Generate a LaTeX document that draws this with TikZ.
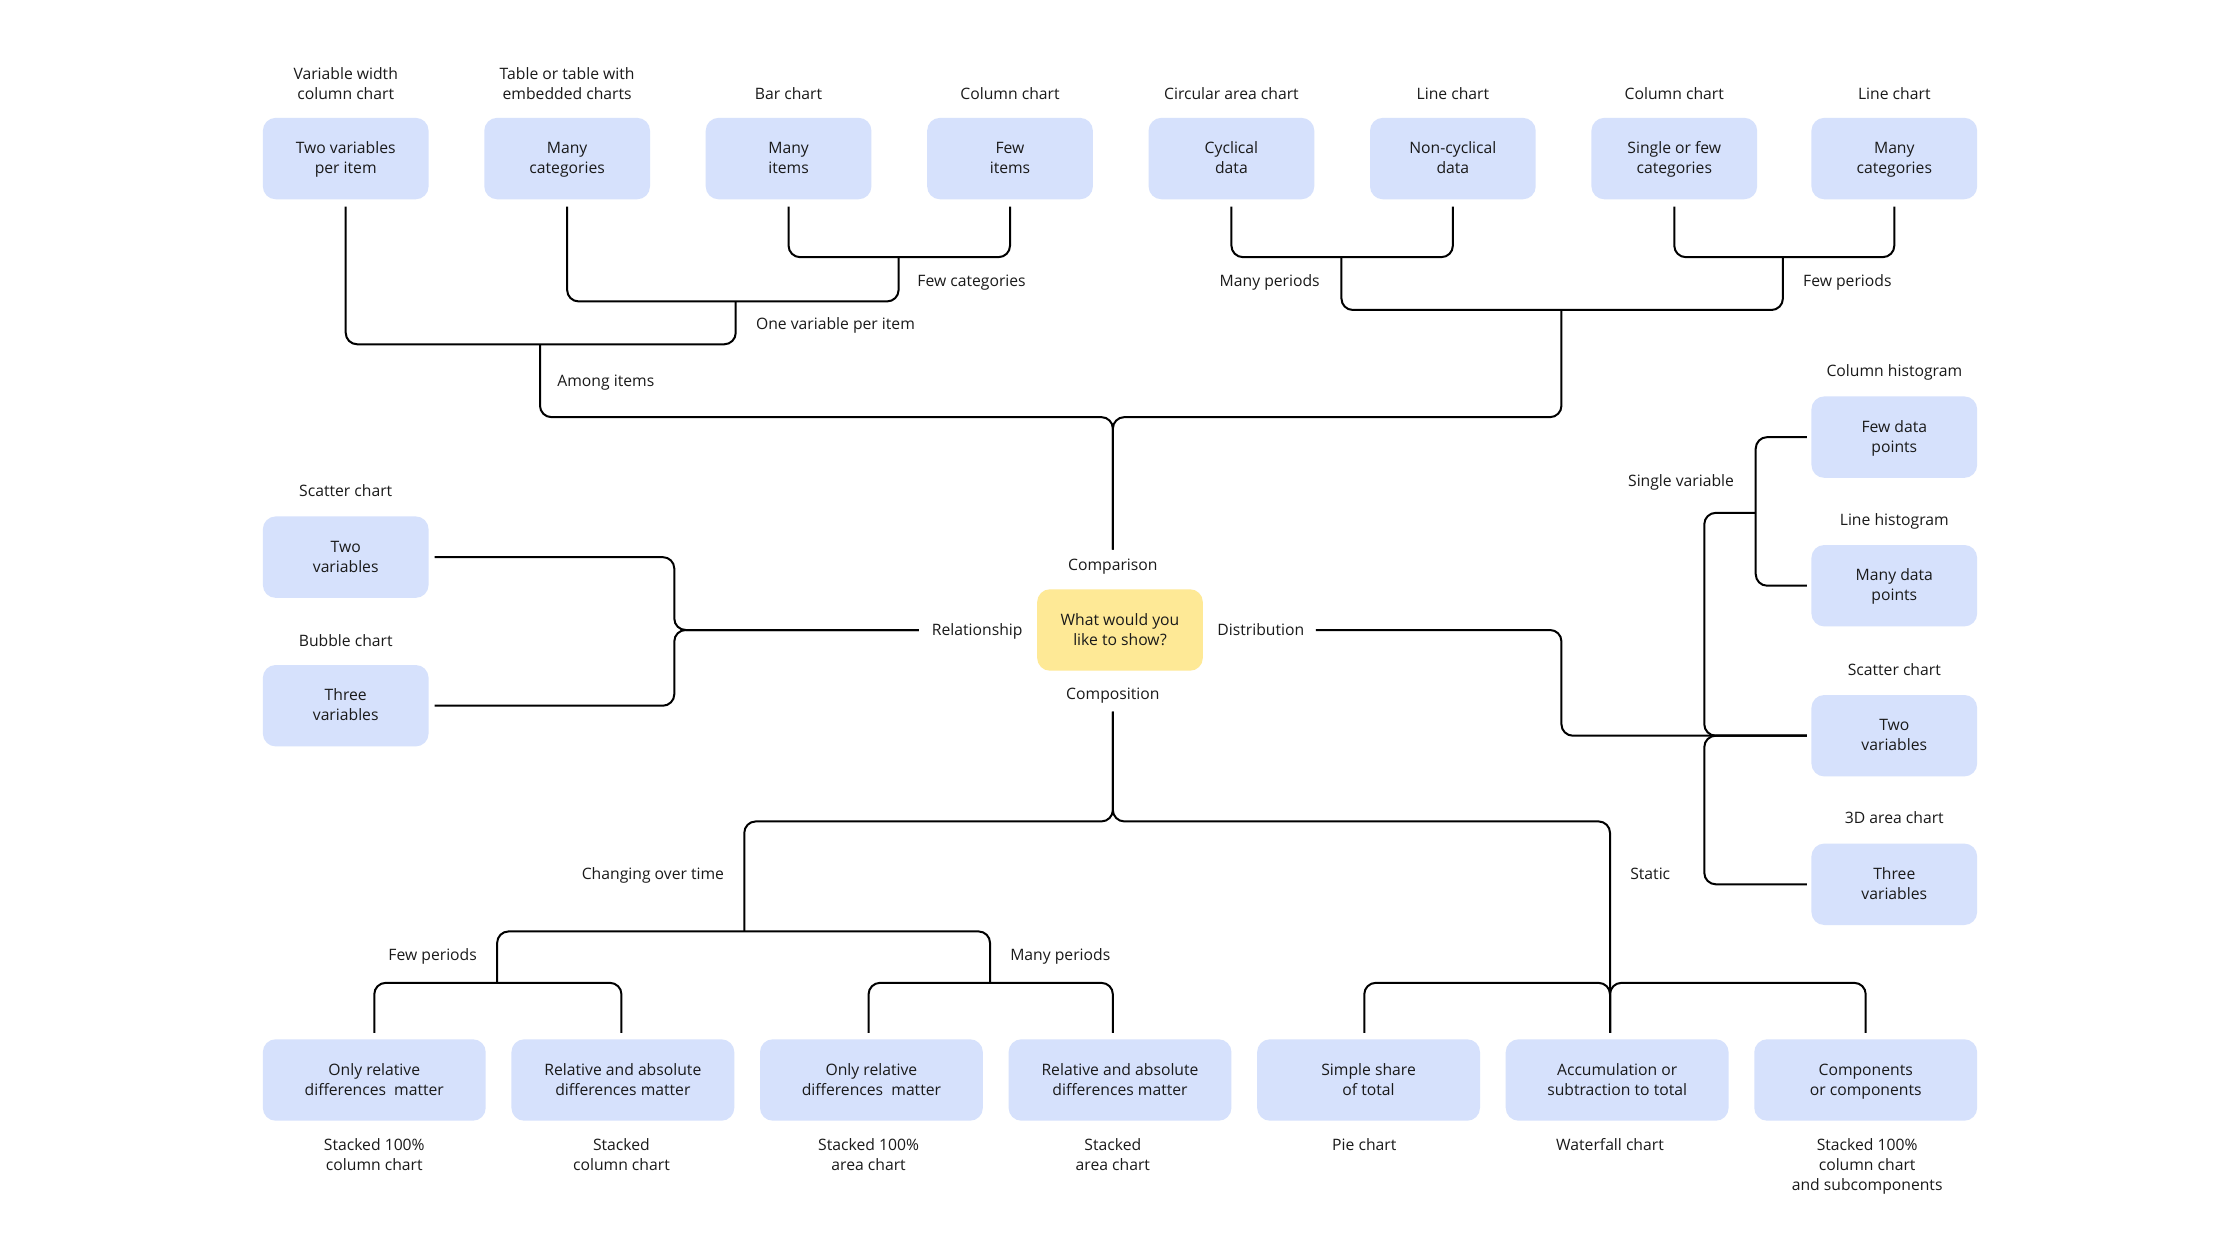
\documentclass[tikz,border=0pt]{standalone}
\usepackage{fontspec}
\setmainfont{Open Sans}
\definecolor{boxblue}{RGB}{214,225,252}
\definecolor{qyellow}{RGB}{254,233,150}
\definecolor{ink}{RGB}{26,26,26}
\newcommand{\ml}[1]{\begin{tabular}[t]{@{}c@{}}#1\end{tabular}}
\begin{document}
\begin{tikzpicture}[x=1pt,y=-1pt,
  every node/.style={font=\fontsize{11}{14}\selectfont, text=ink, inner sep=0pt},
  one/.style={text height=7pt, text depth=0pt},
  two/.style={text height=7pt, text depth=14pt},
  three/.style={text height=7pt, text depth=28pt},
  box/.style={rectangle, rounded corners=9pt, fill=boxblue, minimum width=116pt, minimum height=57pt, two},
  wbox/.style={box, minimum width=156pt},
  qbox/.style={box, fill=qyellow},
  conn/.style={draw=black, line width=1.4pt, rounded corners=8pt}]
\fill[white] (0,0) rectangle (1568,882);
\useasboundingbox (0,0) rectangle (1568,882);

% ---------- top row boxes ----------
\node[box] (t1) at (242,111) {\ml{Two variables\\per item}};
\node[box] (t2) at (397,111) {\ml{Many\\categories}};
\node[box] (t3) at (552,111) {\ml{Many\\items}};
\node[box] (t4) at (707,111) {\ml{Few\\items}};
\node[box] (t5) at (862,111) {\ml{Cyclical\\data}};
\node[box] (t6) at (1017,111) {\ml{Non-cyclical\\data}};
\node[box] (t7) at (1172,111) {\ml{Single or few\\categories}};
\node[box] (t8) at (1326,111) {\ml{Many\\categories}};

\node[two] (lt1) at (242,59) {\ml{Variable width\\column chart}};
\node[two] (lt2) at (397,59) {\ml{Table or table with\\embedded charts}};
\node[one] (lt3) at (552,66) {Bar chart};
\node[one] (lt4) at (707,66) {Column chart};
\node[one] (lt5) at (862,66) {Circular area chart};
\node[one] (lt6) at (1017,66) {Line chart};
\node[one] (lt7) at (1172,66) {Column chart};
\node[one] (lt8) at (1326,66) {Line chart};

% ---------- centre ----------
\node[qbox] (q) at (784,441) {\ml{What would you\\like to show?}};
\node[one] (cmp) at (779,396) {Comparison};
\node[one] (cps) at (779,486) {Composition};
\node[one, anchor=east] (rel) at (716,441) {Relationship};
\node[one, anchor=west] (dis) at (852,441) {Distribution};

% ---------- left boxes ----------
\node[box] (l1) at (242,390) {\ml{Two\\variables}};
\node[box] (l2) at (242,494) {\ml{Three\\variables}};
\node[one] (ll1) at (242,344) {Scatter chart};
\node[one] (ll2) at (242,449) {Bubble chart};

% ---------- right boxes ----------
\node[box] (r1) at (1326,306) {\ml{Few data\\points}};
\node[box] (r2) at (1326,410) {\ml{Many data\\points}};
\node[box] (r3) at (1326,515) {\ml{Two\\variables}};
\node[box] (r4) at (1326,619) {\ml{Three\\variables}};
\node[one] (lr1) at (1326,260) {Column histogram};
\node[one] (lr2) at (1326,364) {Line histogram};
\node[one] (lr3) at (1326,469) {Scatter chart};
\node[one] (lr4) at (1326,573) {3D area chart};

% ---------- bottom boxes ----------
\node[wbox] (b1) at (262,756) {\ml{Only relative\\differences\ \ matter}};
\node[wbox] (b2) at (436,756) {\ml{Relative and absolute\\differences matter}};
\node[wbox] (b3) at (610,756) {\ml{Only relative\\differences\ \ matter}};
\node[wbox] (b4) at (784,756) {\ml{Relative and absolute\\differences matter}};
\node[wbox] (b5) at (958,756) {\ml{Simple share\\of total}};
\node[wbox] (b6) at (1132,756) {\ml{Accumulation or\\subtraction to total}};
\node[wbox] (b7) at (1306,756) {\ml{Components\\or components}};

\node[two] (lb1) at (262,809) {\ml{Stacked 100\%\\column chart}};
\node[two] (lb2) at (435,809) {\ml{Stacked\\column chart}};
\node[two] (lb3) at (608,809) {\ml{Stacked 100\%\\area chart}};
\node[two] (lb4) at (779,809) {\ml{Stacked\\area chart}};
\node[one] (lb5) at (955,802) {Pie chart};
\node[one] (lb6) at (1127,802) {Waterfall chart};
\node[three] (lb7) at (1307,816) {\ml{Stacked 100\%\\column chart\\and subcomponents}};

% ---------- branch labels ----------
\node[one, anchor=west] (fc) at (642,197) {Few categories};
\node[one, anchor=west] (ov) at (529,227) {One variable per item};
\node[one, anchor=west] (ai) at (390,267) {Among items};
\node[one, anchor=east] (mp1) at (924,197) {Many periods};
\node[one, anchor=west] (fp1) at (1262,197) {Few periods};
\node[one, anchor=east] (sv) at (1214,337) {Single variable};
\node[one, anchor=east] (cot) at (507,612) {Changing over time};
\node[one, anchor=west] (st) at (1141,612) {Static};
\node[one, anchor=east] (fp2) at (334,669) {Few periods};
\node[one, anchor=west] (mp2) at (707,669) {Many periods};

% ---------- junctions ----------
\coordinate (jFC) at (629,180);
\coordinate (jOV) at (515,211);
\coordinate (jAI) at (378,241);
\coordinate (jC) at (779,292);
\coordinate (jMP) at (939,180);
\coordinate (jR) at (1093,217);
\coordinate (jFP) at (1248,180);
\coordinate (jRel) at (472,441);
\coordinate (jD1) at (1093,515);
\coordinate (jDv) at (1193,515);
\coordinate (jSV) at (1229,359);
\coordinate (jCT) at (521,575);
\coordinate (jSt) at (1127,575);
\coordinate (jCTb) at (521,652);
\coordinate (jFPl) at (348,688);
\coordinate (jMPl) at (693,688);
\coordinate (jStb) at (1127,688);
\coordinate (b1in) at (262,723);
\coordinate (b2in) at (435,723);
\coordinate (b3in) at (608,723);
\coordinate (b4in) at (779,723);
\coordinate (b5in) at (955,723);
\coordinate (b6in) at (1127,723);
\coordinate (b7in) at (1306,723);

% ---------- connectors: comparison ----------
\draw[conn] ([yshift=-5pt]t3.south) |- (jFC) -| ([yshift=-5pt]t4.south);
\draw[conn] ([yshift=-5pt]t2.south) |- (jOV) -| (jFC);
\draw[conn] ([yshift=-5pt]t1.south) |- (jAI) -| (jOV);
\draw[conn] (jAI) |- (jC) -- ([yshift=7.5pt]cmp.north);
\draw[conn] ([yshift=-5pt]t5.south) |- (jMP) -| ([yshift=-5pt]t6.south);
\draw[conn] ([yshift=-5pt]t7.south) |- (jFP) -| ([yshift=-5pt]t8.south);
\draw[conn] (jMP) |- (jR) -| (jFP);
\draw[conn] (jR) |- (jC) -- ([yshift=7.5pt]cmp.north);

% ---------- relationship ----------
\draw[conn] ([xshift=4pt]l1.east) -| (jRel) -- ([xshift=-9pt]rel.west);
\draw[conn] ([xshift=4pt]l2.east) -| (jRel) -- ([xshift=-9pt]rel.west);

% ---------- distribution ----------
\draw[conn] ([xshift=8pt]dis.east) -| (jD1) -- ([xshift=-3pt]r3.west);
\draw[conn] (jSV) -| (jDv) -- ([xshift=-3pt]r3.west);
\draw[conn] ([xshift=-3pt]r4.west) -| (jDv) -- ([xshift=-3pt]r3.west);
\draw[conn] ([xshift=-3pt]r1.west) -| (jSV) |- ([xshift=-3pt]r2.west);

% ---------- composition ----------
\draw[conn] ([yshift=-8.5pt]cps.south) |- (jCT) -- (jCTb);
\draw[conn] ([yshift=-8.5pt]cps.south) |- (jSt) -- (b6in);
\draw[conn] (jFPl) |- (jCTb) -| (jMPl);
\draw[conn] (b1in) |- (jFPl) -| (b2in);
\draw[conn] (b3in) |- (jMPl) -| (b4in);
\draw[conn] (b5in) |- (jStb) -- (b6in);
\draw[conn] (b7in) |- (jStb) -- (b6in);
\end{tikzpicture}
\end{document}
